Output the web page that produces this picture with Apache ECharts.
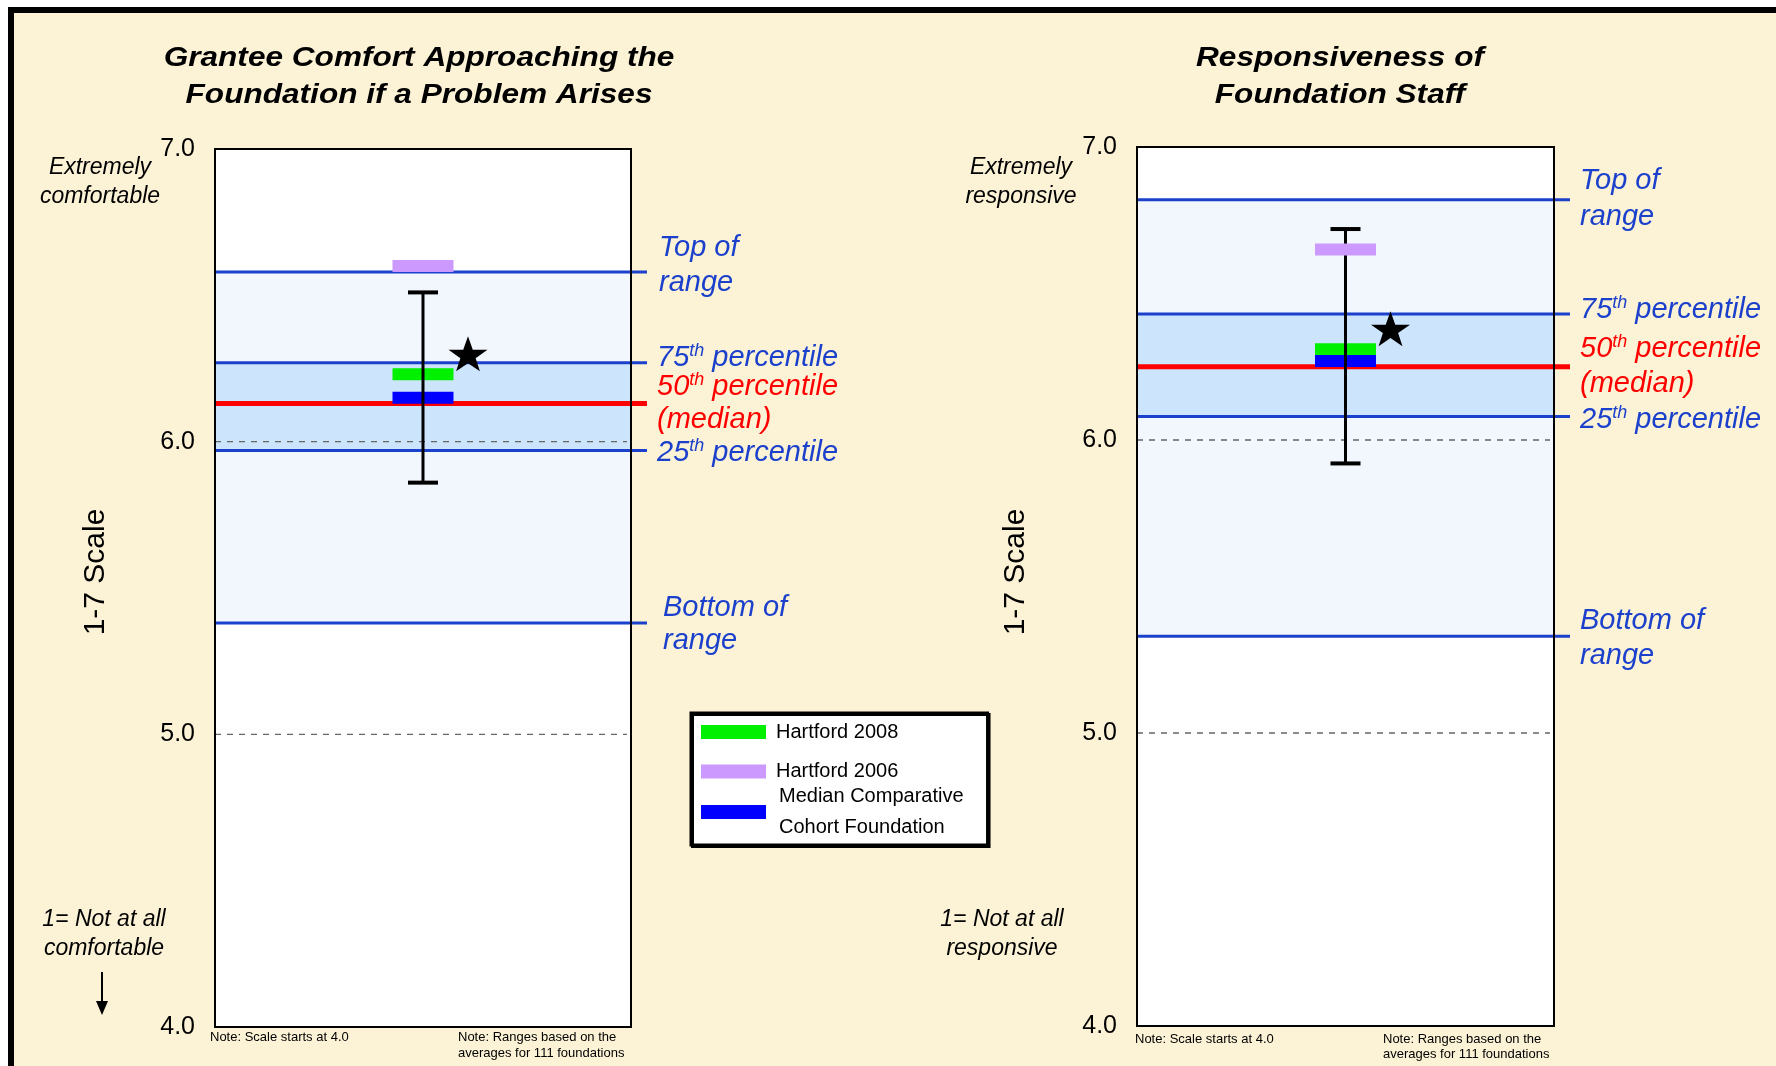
<!DOCTYPE html>
<html><head><meta charset="utf-8">
<script src="https://cdn.jsdelivr.net/npm/echarts@6/dist/echarts.min.js"></script>
<style>html,body{margin:0;padding:0;background:#fff;}#c{width:1776px;height:1066px;}</style>
</head><body><div id="c"></div><script>
// ---------- data ----------
const panelTitles = [['Grantee Comfort Approaching the', 'Foundation if a Problem Arises'], ['Responsiveness of', 'Foundation Staff']];
const topAnchors = [['Extremely', 'comfortable'], ['Extremely', 'responsive']];
const bottomAnchors = [['1= Not at all', 'comfortable'], ['1= Not at all', 'responsive']];
const yTicks = [4, 5, 6, 7];
const dashedTicks = [5, 6];
const rangeTop = [6.58, 6.82];
const pct75 = [6.27, 6.43];
const pct50 = [6.13, 6.25];
const pct25 = [5.97, 6.08];
const rangeBottom = [5.38, 5.33];
const hartford2008 = [6.23, 6.31];
const hartford2006 = [6.60, 6.65];
const medianCohort = [6.15, 6.27];
const errLow = [5.86, 5.92];
const errHigh = [6.51, 6.72];
const starValue = [6.30, 6.38];
const seriesNames = ['Hartford 2008', 'Hartford 2006', 'Median Comparative\nCohort Foundation'];
const axisTitle = '1-7 Scale';
const noteLeft = 'Note: Scale starts at 4.0';
const noteRight = ['Note: Ranges based on the', 'averages for 111 foundations'];

// ---------- style ----------
const FONT = '"Liberation Sans", Arial, sans-serif';
const CREAM = '#FCF2D6';
const BLUE = '#1B40CC';
const RED = '#FF0000';
const BAND_LIGHT = '#F2F7FE';
const BAND_DARK = '#CCE4FC';
const MARK_COLORS = ['#00F000', '#CC99FF', '#0000FF'];

const grids = [
  {left: 215, top: 149, width: 416, height: 878},
  {left: 1137, top: 147, width: 417, height: 879}
];

const chart = echarts.init(document.getElementById('c'), null, {renderer: 'canvas'});

function bandsRender(params, api) {
  const cs = params.coordSys;
  const yHigh = api.coord([0, api.value(1)])[1];
  const yLow = api.coord([0, api.value(0)])[1];
  const kind = api.value(2);
  return {type: 'rect', shape: {x: cs.x, y: yHigh, width: cs.width, height: yLow - yHigh},
    style: {fill: kind === 0 ? '#FFFFFF' : (kind === 1 ? BAND_LIGHT : BAND_DARK)}};
}
function dashRender(params, api) {
  const cs = params.coordSys;
  const y = api.coord([0, api.value(0)])[1];
  return {type: 'line', shape: {x1: cs.x, y1: y, x2: cs.x + cs.width - 4, y2: y},
    style: {stroke: '#666', lineWidth: 1.3, lineDash: [6, 6]}};
}
function rangeRender(params, api) {
  const cs = params.coordSys;
  const y = api.coord([0, api.value(0)])[1];
  const red = api.value(1) === 1;
  return {type: 'line', shape: {x1: cs.x, y1: y, x2: cs.x + cs.width + 16, y2: y},
    style: {stroke: red ? RED : BLUE, lineWidth: red ? 5 : 3}};
}
function borderRender(params, api) {
  const cs = params.coordSys;
  return {type: 'rect', shape: {x: cs.x, y: cs.y, width: cs.width, height: cs.height},
    style: {fill: null, stroke: '#000', lineWidth: 2}};
}
function errRender(params, api) {
  const lo = api.coord([api.value(0), api.value(1)]);
  const hi = api.coord([api.value(0), api.value(2)]);
  return {type: 'group', children: [
    {type: 'line', shape: {x1: lo[0], y1: lo[1], x2: hi[0], y2: hi[1]}, style: {stroke: '#000', lineWidth: 3}},
    {type: 'line', shape: {x1: lo[0] - 15, y1: lo[1], x2: lo[0] + 15, y2: lo[1]}, style: {stroke: '#000', lineWidth: 4}},
    {type: 'line', shape: {x1: hi[0] - 15, y1: hi[1], x2: hi[0] + 15, y2: hi[1]}, style: {stroke: '#000', lineWidth: 4}}
  ]};
}
const STAR = 'path://M50,0 L61.8,35.1 L98.1,35.1 L68.8,56.7 L79.4,91 L50,70 L20.6,91 L31.2,56.7 L1.9,35.1 L38.2,35.1 Z';

const series = [];
const xAxes = [], yAxes = [];
grids.forEach((g, i) => {
  xAxes.push({gridIndex: i, type: 'value', min: 0, max: 1, show: false});
  yAxes.push({gridIndex: i, type: 'value', min: yTicks[0], max: yTicks[yTicks.length - 1], interval: 1,
    axisLine: {show: false}, axisTick: {show: false}, splitLine: {show: false},
    axisLabel: {margin: 20, fontSize: 25, color: '#000', fontFamily: FONT, formatter: v => v.toFixed(1)}});
  const base = {xAxisIndex: i, yAxisIndex: i, silent: true, animation: false};
  series.push(Object.assign({type: 'custom', z: 1, clip: false, renderItem: bandsRender,
    data: [[yTicks[0], yTicks[yTicks.length - 1], 0], [rangeBottom[i], rangeTop[i], 1], [pct25[i], pct75[i], 2]]}, base));
  series.push(Object.assign({type: 'custom', z: 2, clip: false, renderItem: dashRender,
    data: dashedTicks.map(v => [v])}, base));
  series.push(Object.assign({type: 'custom', z: 3, clip: false, renderItem: rangeRender,
    data: [[rangeTop[i], 0], [pct75[i], 0], [pct50[i], 1], [pct25[i], 0], [rangeBottom[i], 0]]}, base));
  series.push(Object.assign({type: 'custom', z: 4, clip: false, renderItem: borderRender, data: [[0]]}, base));
  series.push(Object.assign({type: 'scatter', name: seriesNames[0], z: 5, symbol: 'rect', symbolSize: [61, 12],
    itemStyle: {color: MARK_COLORS[0], opacity: 1}, data: [[0.5, hartford2008[i]]]}, base));
  series.push(Object.assign({type: 'scatter', name: seriesNames[2], z: 5, symbol: 'rect', symbolSize: [61, 12],
    itemStyle: {color: MARK_COLORS[2], opacity: 1}, data: [[0.5, medianCohort[i]]]}, base));
  series.push(Object.assign({type: 'custom', z: 6, clip: false, renderItem: errRender,
    data: [[0.5, errLow[i], errHigh[i]]]}, base));
  series.push(Object.assign({type: 'scatter', name: seriesNames[1], z: 7, symbol: 'rect', symbolSize: [61, 12],
    itemStyle: {color: MARK_COLORS[1], opacity: 1}, data: [[0.5, hartford2006[i]]]}, base));
  series.push(Object.assign({type: 'scatter', z: 8, symbol: STAR, symbolSize: [39, 35], symbolOffset: [45, 0],
    itemStyle: {color: '#000', opacity: 1}, data: [[0.5, starValue[i]]]}, base));
});

function txt(x, y, text, opt) {
  const st = Object.assign({text: text, fill: '#000', fontFamily: FONT, fontSize: 20,
    align: 'left', verticalAlign: 'middle', textAlign: 'left', textVerticalAlign: 'middle'}, opt || {});
  if (opt && opt.align) st.textAlign = opt.align;
  return {type: 'text', x: x, y: y, z: 100, silent: true, style: st};
}
function sup(x, y, num, rest, color) {
  return txt(x, y, '{n|' + num + '}{s|th}{n|' + rest + '}', {fill: color, rich: {
    n: {fontSize: 29, fontStyle: 'italic', fontFamily: FONT, fill: color, color: color, lineHeight: 32},
    s: {fontSize: 18, fontStyle: 'italic', fontFamily: FONT, fill: color, color: color, lineHeight: 18, verticalAlign: 'top'}
  }});
}
const blueIt = {fontSize: 29, fontStyle: 'italic', fill: BLUE};
const redIt = {fontSize: 29, fontStyle: 'italic', fill: RED};
const anchorIt = {fontSize: 23, fontStyle: 'italic', align: 'center'};
const titleSt = {fontSize: 27, fontStyle: 'italic', fontWeight: 'bold', align: 'center'};
const noteSt = {fontSize: 13};

const titleX = [419, 1340];
const anchorX = [100, 1021];
const bottomAnchorX = [104, 1002];
const scaleX = [96, 1016];
const labelX = [[659, 657, 663], [1580, 1580, 1580]];
const labelY = [
  {top: [248, 283], p75: 358, p50: 387, med: 420, p25: 453, bot: [608, 641]},
  {top: [181, 217], p75: 310, p50: 349, med: 384, p25: 420, bot: [621, 656]}
];
const noteX = [[210, 458], [1135, 1383]];
const noteY = [[1037, 1053], [1039, 1054]];

const elements = [
  {type: 'rect', z: -100, silent: true, shape: {x: 11, y: 10, width: 1800, height: 1100},
    style: {fill: CREAM, stroke: '#000', lineWidth: 6}}
];
for (let i = 0; i < 2; i++) {
  const t0 = txt(titleX[i], 59, panelTitles[i][0], titleSt); t0.scaleX = 1.17;
  const t1 = txt(titleX[i], 96, panelTitles[i][1], titleSt); t1.scaleX = 1.17;
  elements.push(t0, t1);
  elements.push(txt(anchorX[i], 168, topAnchors[i][0], anchorIt));
  elements.push(txt(anchorX[i], 197, topAnchors[i][1], anchorIt));
  elements.push(txt(bottomAnchorX[i], 920, bottomAnchors[i][0], anchorIt));
  elements.push(txt(bottomAnchorX[i], 949, bottomAnchors[i][1], anchorIt));
  const sc = txt(scaleX[i], 572, axisTitle, {fontSize: 30, align: 'center'});
  sc.rotation = Math.PI / 2;
  elements.push(sc);
  const L = labelY[i], X = labelX[i];
  elements.push(txt(X[0], L.top[0], 'Top of', blueIt));
  elements.push(txt(X[0], L.top[1], 'range', blueIt));
  elements.push(sup(X[1], L.p75, '75', ' percentile', BLUE));
  elements.push(sup(X[1], L.p50, '50', ' percentile', RED));
  elements.push(txt(X[1], L.med, '(median)', redIt));
  elements.push(sup(X[1], L.p25, '25', ' percentile', BLUE));
  elements.push(txt(X[2], L.bot[0], 'Bottom of', blueIt));
  elements.push(txt(X[2], L.bot[1], 'range', blueIt));
  elements.push(txt(noteX[i][0], noteY[i][0], noteLeft, noteSt));
  elements.push(txt(noteX[i][1], noteY[i][0], noteRight[0], noteSt));
  elements.push(txt(noteX[i][1], noteY[i][1], noteRight[1], noteSt));
}
elements.push({type: 'line', z: 100, silent: true, shape: {x1: 102, y1: 972, x2: 102, y2: 1004}, style: {stroke: '#000', lineWidth: 2}});
elements.push({type: 'polygon', z: 100, silent: true, shape: {points: [[96, 1001], [108, 1001], [102, 1015]]}, style: {fill: '#000'}});

const legendText = {fontSize: 20, color: '#000', fontFamily: FONT};
chart.setOption({
  animation: false,
  backgroundColor: '#fff',
  grid: grids,
  xAxis: xAxes,
  yAxis: yAxes,
  legend: [
    {data: [seriesNames[0], seriesNames[1]], orient: 'vertical', left: 701, top: 720, padding: 0,
      itemGap: 15.5, itemWidth: 65, itemHeight: 14, icon: 'rect', selectedMode: false, z: 10,
      itemStyle: {opacity: 1},
      textStyle: Object.assign({lineHeight: 24, padding: [0, 0, 0, 5]}, legendText)},
    {data: [seriesNames[2]], orient: 'vertical', left: 691, top: 713, padding: [68, 24, 2, 10],
      itemWidth: 65, itemHeight: 14, icon: 'rect', selectedMode: false, z: 5,
      itemStyle: {opacity: 1},
      backgroundColor: '#fff', borderColor: '#000', borderWidth: 3,
      shadowColor: '#000', shadowOffsetX: 1.5, shadowOffsetY: 1.5, shadowBlur: 0.5,
      textStyle: Object.assign({lineHeight: 31, padding: [0, 0, 0, 8]}, legendText)}
  ],
  graphic: {elements: elements},
  series: series
});
</script></body></html>
